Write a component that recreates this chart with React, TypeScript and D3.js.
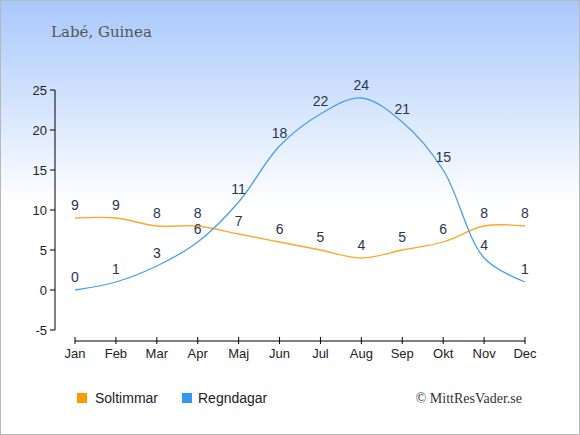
import React from 'react';
import * as d3 from 'd3';

const months = ['Jan', 'Feb', 'Mar', 'Apr', 'Maj', 'Jun', 'Jul', 'Aug', 'Sep', 'Okt', 'Nov', 'Dec'];
const soltimmar = [9, 9, 8, 8, 7, 6, 5, 4, 5, 6, 8, 8];
const regndagar = [0, 1, 3, 6, 11, 18, 22, 24, 21, 15, 4, 1];
const yTicks = [-5, 0, 5, 10, 15, 20, 25];

const W = 580;
const H = 435;

export default function App() {
  const x = d3.scalePoint<string>().domain(months).range([75, 525]);
  const y = d3.scaleLinear().domain([-5, 25]).range([330, 90]);

  const line = d3
    .line<number>()
    .x((_, i) => x(months[i]) ?? 0)
    .y(d => y(d))
    .curve(d3.curveCatmullRom.alpha(0.5));

  const labelColor = '#2a3350';
  const series = [
    { name: 'Soltimmar', values: soltimmar, stroke: '#ffa62b', box: '#ff9900' },
    { name: 'Regndagar', values: regndagar, stroke: '#47a0ee', box: '#3399ee' },
  ];

  return (
    <div style={{ position: 'absolute', left: 0, top: 0 }}>
      <svg width={W} height={H} style={{ display: 'block' }}>
        <defs>
          <linearGradient id="bg" x1="0" y1="0" x2="0" y2="1">
            <stop offset="0" stopColor="#a8c8fb" />
            <stop offset="0.47" stopColor="#ffffff" />
            <stop offset="1" stopColor="#ffffff" />
          </linearGradient>
        </defs>
        <rect x={0.5} y={0.5} width={W - 1} height={H - 1} fill="url(#bg)" stroke="#b8b8b8" />

        <text x={51} y={37} fontFamily="'DejaVu Serif', serif" fontSize={15} fill="#555">
          Labé, Guinea
        </text>

        {/* y axis */}
        <line x1={55} x2={55} y1={90} y2={330} stroke="#000" />
        {yTicks.map(t => (
          <g key={t}>
            <line x1={50} x2={55} y1={y(t)} y2={y(t)} stroke="#000" />
            <text
              x={47}
              y={y(t)}
              dy="0.35em"
              textAnchor="end"
              fontFamily="'Liberation Sans', Arial, sans-serif"
              fontSize={13}
              fill="#222"
            >
              {t}
            </text>
          </g>
        ))}

        {/* x axis */}
        <line x1={75} x2={525} y1={341} y2={341} stroke="#000" />
        {months.map(m => (
          <g key={m}>
            <line x1={x(m)} x2={x(m)} y1={337} y2={344} stroke="#000" />
            <text
              x={x(m)}
              y={358}
              textAnchor="middle"
              fontFamily="'Liberation Sans', Arial, sans-serif"
              fontSize={13}
              fill="#222"
            >
              {m}
            </text>
          </g>
        ))}

        {series.map(s => (
          <g key={s.name}>
            <path d={line(s.values) ?? ''} fill="none" stroke={s.stroke} strokeWidth={1.3} />
            {s.values.map((v, i) => (
              <text
                key={i}
                x={x(months[i])}
                y={y(v) - 8}
                textAnchor="middle"
                fontFamily="'Liberation Sans', Arial, sans-serif"
                fontSize={14}
                fill={labelColor}
              >
                {v}
              </text>
            ))}
          </g>
        ))}

        {/* legend */}
        <rect x={77} y={393} width={10} height={10} fill="#ff9900" />
        <text x={95} y={403} fontFamily="'Liberation Sans', Arial, sans-serif" fontSize={14} fill="#222">
          Soltimmar
        </text>
        <rect x={182} y={393} width={10} height={10} fill="#3399ee" />
        <text x={198} y={403} fontFamily="'Liberation Sans', Arial, sans-serif" fontSize={14} fill="#222">
          Regndagar
        </text>
        <text x={522} y={403} textAnchor="end" fontFamily="'Liberation Serif', serif" fontSize={14} fill="#333">
          © MittResVader.se
        </text>
      </svg>
    </div>
  );
}
